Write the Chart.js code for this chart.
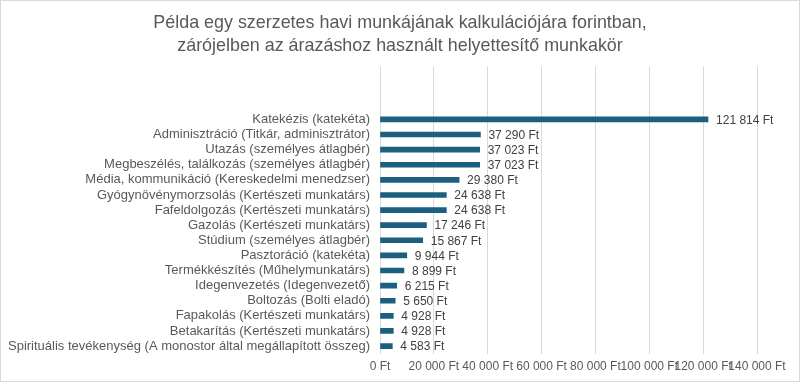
<!DOCTYPE html>
<html>
<head>
<meta charset="utf-8">
<script src="https://cdn.jsdelivr.net/npm/chart.js@4"></script>
<style>
  body { margin: 0; background: #fff; }
  #wrap { width: 800px; height: 382px; box-sizing: border-box; border: 1px solid #d9d9d9; }
</style>
</head>
<body>
<div id="wrap"><canvas id="chart" width="798" height="380"></canvas></div>
<script>
// Categories top to bottom (three empty rows above, as in the original sheet)
const categories = [
    '', '', '',
    'Katekézis (katekéta)',
    'Adminisztráció (Titkár, adminisztrátor)',
    'Utazás (személyes átlagbér)',
    'Megbeszélés, találkozás (személyes átlagbér)',
    'Média, kommunikáció (Kereskedelmi menedzser)',
    'Gyógynövénymorzsolás (Kertészeti munkatárs)',
    'Fafeldolgozás (Kertészeti munkatárs)',
    'Gazolás (Kertészeti munkatárs)',
    'Stúdium (személyes átlagbér)',
    'Pasztoráció (katekéta)',
    'Termékkészítés (Műhelymunkatárs)',
    'Idegenvezetés (Idegenvezető)',
    'Boltozás (Bolti eladó)',
    'Fapakolás (Kertészeti munkatárs)',
    'Betakarítás (Kertészeti munkatárs)',
    'Spirituális tevékenység (A monostor által megállapított összeg)'
];

const amounts = [
    null, null, null,
    121814, 37290, 37023, 37023, 29380, 24638, 24638,
    17246, 15867, 9944, 8899, 6215, 5650, 4928, 4928, 4583
];

const titleLines = [
    'Példa egy szerzetes havi munkájának kalkulációjára forintban,',
    'zárójelben az árazáshoz használt helyettesítő munkakör'
];

const axisMax = 140000;
const axisStep = 20000;

// Hungarian style: space as thousands separator
function formatFt(v) {
    return String(v).replace(/\B(?=(\d{3})+(?!\d))/g, ' ') + ' Ft';
}

// Draw value labels at the end of each bar
const valueLabels = {
    id: 'valueLabels',
    afterDatasetsDraw(chart) {
        const ctx = chart.ctx;
        const meta = chart.getDatasetMeta(0);
        ctx.save();
        ctx.font = '12px "Liberation Sans", Arial, sans-serif';
        ctx.fillStyle = '#404040';
        ctx.textAlign = 'left';
        ctx.textBaseline = 'middle';
        meta.data.forEach((bar, i) => {
            const v = amounts[i];
            if (v == null) return;
            ctx.fillText(formatFt(v), bar.x + 8, bar.y + 1);
        });
        ctx.restore();
    }
};

document.addEventListener('DOMContentLoaded', () => {
    const ctx = document.getElementById('chart').getContext('2d');
    new Chart(ctx, {
        type: 'bar',
        data: {
            labels: categories,
            datasets: [{
                data: amounts,
                backgroundColor: '#1c5f81',
                barThickness: 5
            }]
        },
        options: {
            indexAxis: 'y',
            responsive: false,
            animation: false,
            layout: {
                padding: { left: 0, right: 0, top: 0, bottom: 1 }
            },
            plugins: {
                legend: { display: false },
                tooltip: { enabled: false },
                title: {
                    display: true,
                    text: titleLines,
                    color: '#595959',
                    font: { family: '"Liberation Sans", Arial, sans-serif', size: 17.9, weight: 'normal', lineHeight: 1.3 },
                    padding: { top: 10, bottom: 9 }
                }
            },
            scales: {
                x: {
                    min: 0,
                    max: axisMax,
                    border: { display: false },
                    grid: { color: '#d9d9d9', drawTicks: false },
                    ticks: {
                        stepSize: axisStep,
                        autoSkip: false,
                        maxRotation: 0,
                        padding: 6,
                        color: '#595959',
                        font: { family: '"Liberation Sans", Arial, sans-serif', size: 12 },
                        callback: v => formatFt(v)
                    },
                    afterFit: axis => { axis.paddingRight = 42; }
                },
                y: {
                    border: { display: false },
                    grid: { display: false, drawTicks: false },
                    ticks: {
                        autoSkip: false,
                        padding: 10,
                        color: '#595959',
                        font: { family: '"Liberation Sans", Arial, sans-serif', size: 13 }
                    },
                    afterFit: axis => { axis.width = 379; }
                }
            }
        },
        plugins: [valueLabels]
    });
});
</script>
</body>
</html>
